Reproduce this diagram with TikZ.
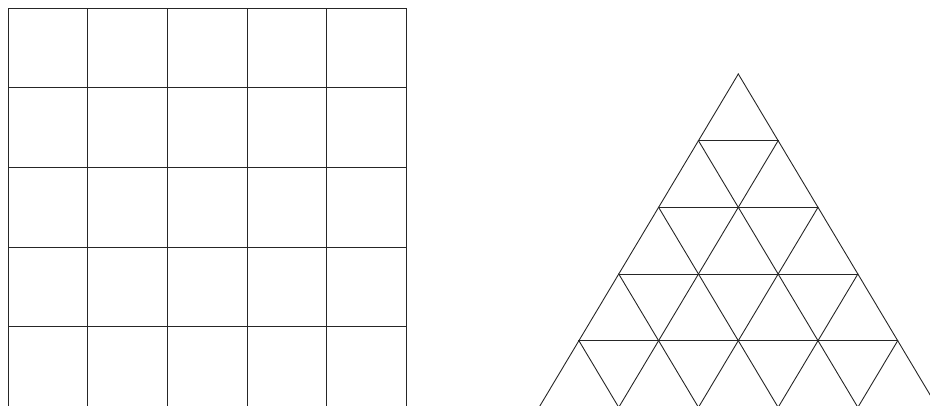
\documentclass[tikz,border=0pt]{standalone}
\usepackage{tikz}

\begin{document}
\begin{tikzpicture}[
    x=1pt, y=-1pt,
    linha/.style={line width=0.9pt, black!85, line cap=rect}
]
    \useasboundingbox (0,0) rectangle (930,405);
    \clip (0,0) rectangle (930,405);

    % malha quadrada
    \foreach \i in {0,...,5} {
        \draw[linha] (8+79.7*\i, 8) -- (8+79.7*\i, 406.5);
        \draw[linha] (8, 8+79.7*\i) -- (406.5, 8+79.7*\i);
    }

    % malha triangular
    \coordinate (topo) at (738.3,74);
    \foreach \k in {1,...,5} {
        \draw[linha] ([shift={(-39.85*\k, 66.67*\k)}]topo) -- ([shift={(39.85*\k, 66.67*\k)}]topo);
    }
    \foreach \j in {0,...,4} {
        \draw[linha] ([shift={(39.85*\j, 66.67*\j)}]topo) -- ([shift={(39.85*\j-39.85*5+39.85*\j, 66.67*5)}]topo);
        \draw[linha] ([shift={(-39.85*\j, 66.67*\j)}]topo) -- ([shift={(-39.85*\j+39.85*5-39.85*\j, 66.67*5)}]topo);
    }
\end{tikzpicture}
\end{document}
